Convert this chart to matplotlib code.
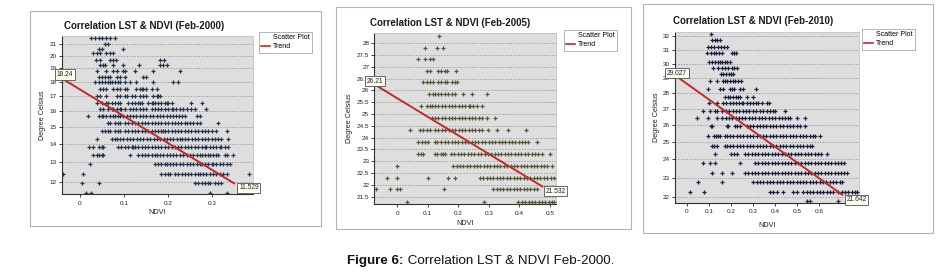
import matplotlib
matplotlib.use("Agg")
import matplotlib.pyplot as plt
from matplotlib.lines import Line2D
from matplotlib.patches import Rectangle
from matplotlib.ticker import NullLocator

plt.rcParams['font.family'] = ['Liberation Sans', 'DejaVu Sans']

# ---------------- data: Feb-2000 ----------------
lst_2000 = [21.46, 21.0, 20.58, 20.2, 19.66, 19.27, 18.79, 18.37, 17.96, 17.45, 17.0,
            16.53, 16.11, 15.64, 15.21, 14.74, 14.25, 13.83, 13.36, 12.88, 12.40, 11.92, 11.45]
ndvi_2000 = [
    [0.026, 0.034, 0.042, 0.049, 0.059, 0.068, 0.079],
    [0.057, 0.064],
    [0.042, 0.049, 0.098],
    [0.030, 0.038, 0.045, 0.060, 0.068, 0.076],
    [0.036, 0.045, 0.068, 0.076, 0.082, 0.181, 0.191],
    [0.045, 0.052, 0.057, 0.076, 0.098, 0.135, 0.181, 0.189, 0.197],
    [0.038, 0.060, 0.076, 0.083, 0.098, 0.102, 0.125, 0.166, 0.227],
    [0.042, 0.049, 0.057, 0.064, 0.068, 0.083, 0.091, 0.102, 0.144, 0.151],
    [0.034, 0.042, 0.049, 0.057, 0.064, 0.068, 0.072, 0.080, 0.087, 0.091, 0.102, 0.113,
     0.128, 0.166, 0.212, 0.223],
    [0.045, 0.053, 0.060, 0.076, 0.083, 0.091, 0.102, 0.106, 0.128, 0.136, 0.140, 0.144,
     0.151, 0.163, 0.174],
    [0.038, 0.045, 0.060, 0.083, 0.091, 0.102, 0.107, 0.117, 0.125, 0.136, 0.144, 0.151,
     0.166, 0.174, 0.178, 0.181],
    [0.038, 0.049, 0.059, 0.064, 0.072, 0.079, 0.087, 0.091, 0.110, 0.117, 0.125, 0.132,
     0.136, 0.140, 0.155, 0.163, 0.166, 0.170, 0.178, 0.185, 0.193, 0.197, 0.200, 0.208,
     0.253, 0.278],
    [0.045, 0.053, 0.064, 0.072, 0.076, 0.083, 0.091, 0.094, 0.102, 0.113, 0.121, 0.128,
     0.136, 0.144, 0.151, 0.163, 0.170, 0.178, 0.185, 0.193, 0.200, 0.208, 0.212, 0.219,
     0.227, 0.234, 0.242, 0.251, 0.261, 0.287],
    [0.019, 0.042, 0.049, 0.053, 0.060, 0.068, 0.076, 0.079, 0.087, 0.091, 0.098, 0.106,
     0.113, 0.121, 0.128, 0.136, 0.144, 0.151, 0.159, 0.166, 0.174, 0.181, 0.189, 0.197,
     0.204, 0.212, 0.218, 0.225, 0.232, 0.238, 0.265, 0.272],
    [0.064, 0.068, 0.079, 0.087, 0.091, 0.102, 0.110, 0.117, 0.125, 0.132, 0.140, 0.147,
     0.155, 0.163, 0.170, 0.178, 0.185, 0.193, 0.200, 0.208, 0.215, 0.223, 0.230, 0.238,
     0.242, 0.249, 0.257, 0.265, 0.272, 0.314],
    [0.049, 0.057, 0.064, 0.068, 0.079, 0.087, 0.091, 0.102, 0.110, 0.117, 0.125, 0.132,
     0.140, 0.147, 0.155, 0.163, 0.170, 0.178, 0.185, 0.189, 0.193, 0.200, 0.208, 0.215,
     0.223, 0.230, 0.238, 0.246, 0.253, 0.261, 0.268, 0.276, 0.283, 0.291, 0.299, 0.310,
     0.333],
    [0.038, 0.072, 0.079, 0.083, 0.091, 0.098, 0.106, 0.113, 0.121, 0.129, 0.136, 0.144,
     0.152, 0.159, 0.167, 0.174, 0.182, 0.190, 0.197, 0.205, 0.212, 0.220, 0.227, 0.231,
     0.239, 0.246, 0.254, 0.261, 0.269, 0.276, 0.284, 0.291, 0.299, 0.306, 0.314, 0.321,
     0.336],
    [0.021, 0.030, 0.042, 0.049, 0.053, 0.087, 0.094, 0.102, 0.110, 0.117, 0.121, 0.125,
     0.132, 0.140, 0.147, 0.155, 0.163, 0.170, 0.178, 0.185, 0.193, 0.200, 0.208, 0.215,
     0.223, 0.230, 0.238, 0.246, 0.253, 0.261, 0.268, 0.276, 0.283, 0.287, 0.295, 0.302,
     0.310, 0.317, 0.321, 0.329, 0.336],
    [0.030, 0.038, 0.042, 0.049, 0.053, 0.113, 0.132, 0.140, 0.147, 0.155, 0.163, 0.170,
     0.174, 0.181, 0.189, 0.197, 0.204, 0.212, 0.219, 0.227, 0.234, 0.242, 0.249, 0.257,
     0.265, 0.272, 0.276, 0.283, 0.291, 0.295, 0.302, 0.310, 0.314, 0.329, 0.333, 0.348],
    [0.023, 0.170, 0.178, 0.185, 0.193, 0.197, 0.204, 0.212, 0.219, 0.227, 0.234, 0.242,
     0.249, 0.257, 0.265, 0.272, 0.276, 0.283, 0.291, 0.299, 0.302, 0.310, 0.317, 0.325,
     0.333, 0.340],
    [-0.038, 0.006, 0.185, 0.193, 0.200, 0.204, 0.215, 0.223, 0.231, 0.238, 0.246, 0.253,
     0.261, 0.268, 0.272, 0.280, 0.287, 0.295, 0.302, 0.310, 0.317, 0.325, 0.333, 0.384],
    [0.004, 0.042, 0.261, 0.268, 0.276, 0.283, 0.291, 0.295, 0.306, 0.314, 0.321],
    [0.014, 0.026, 0.295, 0.333],
]
trend_x_2000 = [-0.041, 0.352]
trend_y_2000 = [18.24, 11.9]
trend_labels_2000 = ["18.24", "11.529"]

# ---------------- data: Feb-2005 ----------------
lst_2005 = [28.31, 27.81, 27.32, 26.83, 26.35, 25.84, 25.34, 24.85, 24.33, 23.83, 23.31,
            22.81, 22.31, 21.81, 21.29]
ndvi_2005 = [
    [0.138],
    [0.091, 0.129, 0.149],
    [0.069, 0.091, 0.107, 0.118],
    [0.096, 0.107, 0.134, 0.145, 0.156, 0.162, 0.191],
    [0.085, 0.096, 0.107, 0.118, 0.134, 0.145, 0.156, 0.162, 0.178, 0.189, 0.195],
    [0.105, 0.116, 0.123, 0.134, 0.145, 0.156, 0.167, 0.178, 0.189, 0.216, 0.244, 0.293],
    [0.078, 0.096, 0.107, 0.113, 0.124, 0.135, 0.146, 0.157, 0.168, 0.179, 0.190, 0.201,
     0.212, 0.223, 0.234, 0.238, 0.249, 0.260, 0.277],
    [0.113, 0.124, 0.135, 0.146, 0.157, 0.168, 0.179, 0.190, 0.201, 0.212, 0.223, 0.234,
     0.245, 0.256, 0.267, 0.277, 0.293, 0.320],
    [0.042, 0.074, 0.085, 0.096, 0.107, 0.124, 0.135, 0.146, 0.157, 0.168, 0.179, 0.190,
     0.201, 0.212, 0.223, 0.234, 0.245, 0.256, 0.267, 0.277, 0.298, 0.326, 0.362, 0.422],
    [0.069, 0.080, 0.091, 0.102, 0.124, 0.129, 0.145, 0.156, 0.167, 0.178, 0.189, 0.200,
     0.211, 0.222, 0.233, 0.244, 0.255, 0.266, 0.277, 0.288, 0.299, 0.310, 0.321, 0.332,
     0.343, 0.354, 0.365, 0.376, 0.387, 0.398, 0.408, 0.419, 0.429, 0.457],
    [0.069, 0.078, 0.085, 0.124, 0.129, 0.145, 0.151, 0.156, 0.176, 0.187, 0.198, 0.209,
     0.220, 0.231, 0.242, 0.253, 0.264, 0.275, 0.286, 0.297, 0.308, 0.319, 0.330, 0.341,
     0.352, 0.363, 0.374, 0.385, 0.396, 0.407, 0.418, 0.429, 0.440, 0.451, 0.462, 0.473,
     0.501],
    [-0.002, 0.184, 0.195, 0.206, 0.217, 0.228, 0.239, 0.250, 0.261, 0.272, 0.283, 0.294,
     0.305, 0.316, 0.327, 0.338, 0.349, 0.360, 0.371, 0.382, 0.393, 0.404, 0.415, 0.426,
     0.437, 0.448, 0.459, 0.470, 0.481, 0.490, 0.506],
    [-0.035, -0.002, 0.102, 0.165, 0.189, 0.271, 0.282, 0.293, 0.304, 0.315, 0.326, 0.337,
     0.348, 0.359, 0.370, 0.381, 0.392, 0.403, 0.414, 0.425, 0.436, 0.447, 0.458, 0.469,
     0.480, 0.491, 0.502, 0.514],
    [-0.070, -0.024, -0.002, 0.009, 0.154, 0.315, 0.326, 0.337, 0.348, 0.359, 0.370, 0.381,
     0.392, 0.403, 0.414, 0.425, 0.436, 0.447, 0.459],
    [0.031, 0.285, 0.397, 0.408, 0.419, 0.430, 0.441, 0.452, 0.463, 0.474, 0.485, 0.496,
     0.507, 0.514],
]
trend_x_2005 = [-0.075, 0.478]
trend_y_2005 = [26.26, 21.91]
trend_labels_2005 = ["26.21", "21.532"]

# ---------------- data: Feb-2010 ----------------
lst_2010 = [32.15, 31.70, 31.22, 30.74, 30.15, 29.73, 29.31, 28.79, 28.29, 27.77, 27.39,
            26.86, 26.42, 25.92, 25.33, 24.77, 24.32, 23.78, 23.27, 22.79, 22.27, 21.79]
ndvi_2010 = [
    [0.110],
    [0.116, 0.128, 0.139, 0.151],
    [0.095, 0.110, 0.125, 0.140, 0.155, 0.170, 0.181],
    [0.090, 0.110, 0.122, 0.134, 0.146, 0.158, 0.204, 0.214, 0.223],
    [0.103, 0.113, 0.128, 0.140, 0.149, 0.158, 0.173, 0.184, 0.196],
    [0.121, 0.143, 0.158, 0.173, 0.189, 0.204, 0.216, 0.226],
    [0.154, 0.166, 0.178, 0.190, 0.202, 0.211],
    [0.106, 0.139, 0.163, 0.172, 0.181, 0.196, 0.208, 0.220, 0.232, 0.244],
    [0.098, 0.151, 0.166, 0.196, 0.205, 0.214, 0.241, 0.256, 0.314],
    [0.173, 0.185, 0.197, 0.209, 0.221, 0.233, 0.241, 0.271, 0.302],
    [0.103, 0.136, 0.166, 0.180, 0.194, 0.208, 0.222, 0.236, 0.250, 0.256, 0.271, 0.285,
     0.299, 0.313, 0.324, 0.339, 0.362, 0.374],
    [0.075, 0.106, 0.128, 0.136, 0.158, 0.178, 0.193, 0.208, 0.223, 0.238, 0.253, 0.268,
     0.283, 0.298, 0.313, 0.332, 0.347, 0.362, 0.377, 0.392, 0.400, 0.445],
    [0.045, 0.098, 0.139, 0.161, 0.176, 0.191, 0.206, 0.221, 0.236, 0.251, 0.266, 0.281,
     0.296, 0.311, 0.326, 0.341, 0.356, 0.371, 0.386, 0.401, 0.416, 0.431, 0.446, 0.458,
     0.468, 0.498, 0.535],
    [0.109, 0.113, 0.181, 0.189, 0.219, 0.228, 0.241, 0.271, 0.286, 0.301, 0.316, 0.331,
     0.346, 0.361, 0.376, 0.391, 0.406, 0.421, 0.436, 0.452, 0.468, 0.483, 0.498, 0.513,
     0.535],
    [0.098, 0.124, 0.133, 0.143, 0.151, 0.173, 0.182, 0.196, 0.211, 0.226, 0.241, 0.256,
     0.271, 0.286, 0.301, 0.316, 0.331, 0.346, 0.361, 0.376, 0.391, 0.406, 0.421, 0.436,
     0.451, 0.466, 0.481, 0.496, 0.511, 0.526, 0.541, 0.556, 0.571, 0.581, 0.603],
    [0.113, 0.124, 0.136, 0.173, 0.182, 0.196, 0.211, 0.226, 0.241, 0.256, 0.271, 0.286,
     0.301, 0.316, 0.331, 0.346, 0.361, 0.376, 0.391, 0.406, 0.421, 0.436, 0.451, 0.466,
     0.483, 0.498, 0.513, 0.528, 0.543, 0.558, 0.566],
    [0.128, 0.201, 0.213, 0.226, 0.264, 0.279, 0.294, 0.309, 0.324, 0.339, 0.354, 0.369,
     0.384, 0.399, 0.414, 0.429, 0.444, 0.459, 0.474, 0.489, 0.504, 0.519, 0.534, 0.549,
     0.564, 0.579, 0.594, 0.609, 0.633],
    [0.075, 0.106, 0.128, 0.241, 0.309, 0.324, 0.339, 0.354, 0.369, 0.384, 0.399, 0.414,
     0.429, 0.444, 0.459, 0.474, 0.489, 0.504, 0.519, 0.534, 0.549, 0.564, 0.579, 0.594,
     0.609, 0.624, 0.639, 0.654, 0.669, 0.684, 0.699, 0.710],
    [0.113, 0.158, 0.204, 0.264, 0.279, 0.294, 0.309, 0.324, 0.339, 0.354, 0.369, 0.384,
     0.399, 0.414, 0.429, 0.444, 0.459, 0.474, 0.489, 0.504, 0.519, 0.534, 0.549, 0.564,
     0.579, 0.594, 0.609, 0.624, 0.639, 0.654, 0.669, 0.684, 0.699, 0.714, 0.724],
    [0.053, 0.158, 0.302, 0.317, 0.332, 0.347, 0.362, 0.377, 0.392, 0.407, 0.422, 0.437,
     0.452, 0.467, 0.482, 0.497, 0.512, 0.527, 0.542, 0.557, 0.572, 0.587, 0.602, 0.617,
     0.632, 0.647, 0.662, 0.677, 0.692, 0.701],
    [0.015, 0.078, 0.377, 0.392, 0.407, 0.437, 0.483, 0.498, 0.528, 0.543, 0.558, 0.573,
     0.588, 0.603, 0.618, 0.633, 0.648, 0.664, 0.686, 0.701, 0.716, 0.731, 0.746, 0.761,
     0.769],
    [0.543, 0.558, 0.686],
]
trend_x_2010 = [-0.053, 0.707]
trend_y_2010 = [29.2, 22.08]
trend_labels_2010 = ["29.027", "21.642"]

titles = ["Correlation LST & NDVI (Feb-2000)", "Correlation LST & NDVI (Feb-2005)",
          "Correlation LST & NDVI (Feb-2010)"]
caption_bold = "Figure 6:"
caption_rest = " Correlation LST & NDVI Feb-2000."

# ---------------- layout (pixels) ----------------
W, H = 943, 276
fig = plt.figure(figsize=(W / 100, H / 100), dpi=100)


def fbox(l, t, r, b):
    return [l / W, 1 - b / H, (r - l) / W, (b - t) / H]


panels = [
    dict(outer=(30, 11, 321, 226), ax=(62, 36, 253, 194), title_xy=(144, 26),
         xlim=(-0.041, 0.393), ylim=(11.42, 21.67), log=True,
         xticks=[0, 0.1, 0.2, 0.3], yticks=[12, 13, 14, 15, 16, 17, 18, 19, 20, 21],
         lst=lst_2000, ndvi=ndvi_2000, tx=trend_x_2000, ty=trend_y_2000,
         tl=trend_labels_2000, color='#24344c', legend=(259, 32),
         ylab_x=-0.10, xlab_y=-0.12, offs=[(3, 4), (14, -4)]),
    dict(outer=(336, 7, 631, 229), ax=(374.3, 33.3, 555.7, 204), title_xy=(450, 23),
         xlim=(-0.075, 0.519), ylim=(21.19, 28.42), log=False,
         xticks=[0, 0.1, 0.2, 0.3, 0.4, 0.5],
         yticks=[21.5, 22, 22.5, 23, 23.5, 24, 24.5, 25, 25.5, 26, 26.5, 27, 27.5, 28],
         lst=lst_2005, ndvi=ndvi_2005, tx=trend_x_2005, ty=trend_y_2005,
         tl=trend_labels_2005, color='#55583a', legend=(564, 30),
         ylab_x=-0.134, xlab_y=-0.117, offs=[(1, 3), (12.5, -4)]),
    dict(outer=(643, 4, 933, 233), ax=(675, 31.7, 859.3, 202.7), title_xy=(753, 21),
         xlim=(-0.053, 0.781), ylim=(21.70, 32.32), log=True,
         xticks=[0, 0.1, 0.2, 0.3, 0.4, 0.5, 0.6],
         yticks=[22, 23, 24, 25, 26, 27, 28, 29, 30, 31, 32],
         lst=lst_2010, ndvi=ndvi_2010, tx=trend_x_2010, ty=trend_y_2010,
         tl=trend_labels_2010, color='#1a1e3c', legend=(862, 29),
         ylab_x=-0.099, xlab_y=-0.132, offs=[(2, 2), (13.5, -4.5)]),
]

for i, p in enumerate(panels):
    l, t, r, b = p['outer']
    fig.patches.append(Rectangle((l / W, 1 - b / H), (r - l) / W, (b - t) / H,
                                 transform=fig.transFigure, facecolor='white',
                                 edgecolor='#b4b4b4', lw=0.8, zorder=-5))
    ax = fig.add_axes(fbox(*p['ax']))
    ax.set_zorder(2)
    ax.set_facecolor('#dedede')
    if p['log']:
        ax.set_yscale('log')
    ax.set_xlim(*p['xlim'])
    ax.set_ylim(*p['ylim'])
    for yv, xs in zip(p['lst'], p['ndvi']):
        ax.plot(xs, [yv] * len(xs), linestyle='none', marker='+', ms=2.6,
                mec=p['color'], mew=0.9, zorder=3)
    ax.plot(p['tx'], p['ty'], color='#c42a2a', lw=1.4, zorder=4, solid_capstyle='butt')

    ax.set_xticks(p['xticks'])
    ax.set_xticklabels(['0' if v == 0 else f'{v:g}' for v in p['xticks']])
    ax.set_yticks(p['yticks'])
    ax.set_yticklabels([f'{v:g}' for v in p['yticks']])
    ax.yaxis.set_minor_locator(NullLocator())
    ax.xaxis.set_minor_locator(NullLocator())
    ax.tick_params(axis='both', labelsize=4.6, colors='#222222', length=2, width=0.6,
                   direction='out', pad=1.6)
    ax.tick_params(axis='x', pad=2.8)
    ax.grid(axis='y', color='#8a8a8a', lw=0.5, linestyle=(0, (2, 2)))
    ax.set_axisbelow(True)
    for s in ('top', 'right'):
        ax.spines[s].set_color('#c4c4c4')
        ax.spines[s].set_linewidth(0.6)
    for s in ('left', 'bottom'):
        ax.spines[s].set_color('#303030')
        ax.spines[s].set_linewidth(0.8)

    ax.set_xlabel('NDVI', fontsize=5.2, color='#222222')
    ax.set_ylabel('Degree Celsius', fontsize=5.2, color='#222222')
    ax.xaxis.set_label_coords(0.5, p['xlab_y'])
    ax.xaxis.label.set_va('center')
    ax.yaxis.set_label_coords(p['ylab_x'], 0.5)
    ax.yaxis.label.set_va('center')

    for (xv, yv, txt, off) in zip(p['tx'], p['ty'], p['tl'], p['offs']):
        ax.annotate(txt, xy=(xv, yv), xytext=off, textcoords='offset pixels',
                    ha='center', va='center', fontsize=4.8, color='#202020',
                    annotation_clip=False, zorder=10,
                    bbox=dict(boxstyle='square,pad=0.25', fc='#fffff0', ec='#505050', lw=0.6))

    tx, ty = p['title_xy']
    fig.text(tx / W, 1 - ty / H, titles[i], ha='center', va='center',
             fontsize=7, fontweight='bold', color='#1a1a1a')

    handles = [Line2D([], [], linestyle='none', marker=None),
               Line2D([], [], color='#c42a2a', lw=1.2)]
    lx, ly = p['legend']
    leg = fig.legend(handles, ['Scatter Plot', 'Trend'], loc='upper left',
                     bbox_to_anchor=(lx / W, 1 - ly / H), fontsize=5.0, frameon=True,
                     fancybox=False, edgecolor='#a8a8a8', framealpha=1, borderpad=0.35,
                     handlelength=1.3, handletextpad=0.35, labelspacing=0.25,
                     borderaxespad=0.0)
    leg.get_frame().set_linewidth(0.6)
    leg.set_zorder(3)

# caption
renderer = fig.canvas.get_renderer()
t1 = fig.text(347 / W, 1 - 261 / H, caption_bold, ha='left', va='center',
              fontsize=9.6, fontweight='bold', color='#111111')
bb = t1.get_window_extent(renderer=renderer)
fig.text(bb.x1 / W, 1 - 261 / H, caption_rest, ha='left', va='center',
         fontsize=9.6, color='#111111')

fig.savefig('out.png', dpi=100)
